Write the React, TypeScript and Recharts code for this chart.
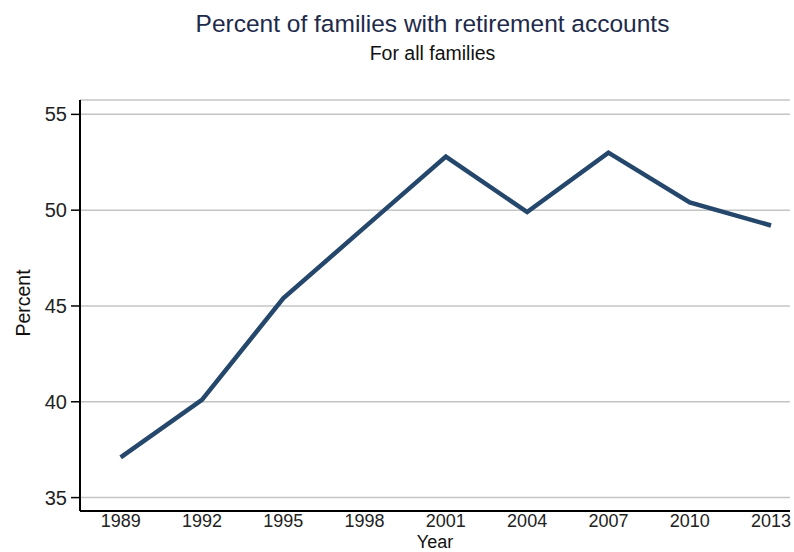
import React from "react"
import { LineChart, Line, XAxis, YAxis, CartesianGrid } from "recharts"

const years = [1989, 1992, 1995, 1998, 2001, 2004, 2007, 2010, 2013]
const percent = [37.1, 40.1, 45.4, 49.1, 52.8, 49.9, 53.0, 50.4, 49.2]
const yTicks = [35, 40, 45, 50, 55]

const data = years.map((year, i) => ({ year, percent: percent[i] }))

const font = "'Liberation Sans', Arial, Helvetica, sans-serif"

const PercentLabel = () => (
  <text
    x={22.5}
    y={303}
    transform="rotate(-90, 22.5, 303)"
    textAnchor="middle"
    dominantBaseline="central"
    fill="#111"
    fontSize={19.5}
    fontFamily={font}
  >
    Percent
  </text>
)

export default function App() {
  return (
    <div style={{ position: "absolute", left: 0, top: 0, width: 794, height: 552, background: "#fff", fontFamily: font }}>
      {/* titles */}
      <div style={{ position: "absolute", left: 0, width: 865, top: 9.5, textAlign: "center", fontSize: 24.5, color: "#1e2a4a", whiteSpace: "nowrap" }}>
        Percent of families with retirement accounts
      </div>
      <div style={{ position: "absolute", left: 0, width: 865, top: 42, textAlign: "center", fontSize: 19.5, color: "#111", whiteSpace: "nowrap" }}>
        For all families
      </div>
      <LineChart width={794} height={552} data={data} margin={{ top: 100, right: 4, bottom: 0, left: 0 }}>
        <CartesianGrid horizontal vertical={false} stroke="#c4c4c4" strokeWidth={1.5} />
        <XAxis
          dataKey="year"
          type="number"
          domain={[1987.5, 2013.7]}
          ticks={years}
          tickLine={false}
          tickSize={0}
          tickMargin={3}
          axisLine={{ stroke: "#000", strokeWidth: 2 }}
          tick={{ fill: "#222", fontSize: 18, fontFamily: font }}
          height={41}
          label={{ value: "Year", position: "insideBottom", offset: 4, fill: "#111", fontSize: 18, fontFamily: font }}
        />
        <YAxis
          type="number"
          domain={[34.3, 55.75]}
          ticks={yTicks}
          width={80}
          tickSize={9}
          tickMargin={4}
          tickLine={{ stroke: "#000", strokeWidth: 1.5 }}
          axisLine={{ stroke: "#000", strokeWidth: 2 }}
          tick={{ fill: "#222", fontSize: 20, fontFamily: font }}
          label={<PercentLabel />}
        />
        <Line
          dataKey="percent"
          stroke="#24476b"
          strokeWidth={4.5}
          dot={false}
          isAnimationActive={false}
          strokeLinejoin="miter"
        />
      </LineChart>
    </div>
  )
}
